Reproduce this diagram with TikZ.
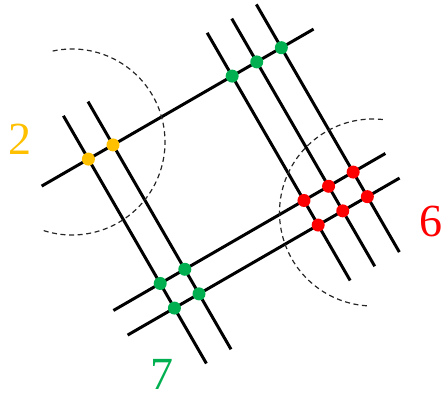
\documentclass[tikz,border=0pt]{standalone}
\usepackage{fontspec}
\setmainfont{Liberation Serif}
\definecolor{cyel}{RGB}{255,192,0}
\definecolor{cgrn}{RGB}{0,176,80}
\definecolor{cred}{RGB}{255,0,0}
\begin{document}
\begin{tikzpicture}[x=1pt,y=1pt,
  gridline/.style={line width=3pt, black},
  dot/.style={circle, inner sep=0pt, minimum size=13pt},
  ydot/.style={dot, fill=cyel},
  gdot/.style={dot, fill=cgrn},
  rdot/.style={dot, fill=cred},
  arcline/.style={line width=1.2pt, dash pattern=on 5pt off 3.6pt, black!85},
  lbl/.style={inner sep=0pt, font=\fontsize{46}{46}\selectfont}]
\useasboundingbox (0,0) rectangle (443,-398);
\begin{scope}[x={(0.866pt,0.5pt)}, y={(0.5pt,-0.866pt)}]
  % v-lines (down-right)
  \foreach \nm/\m in {Ya/-3, Yb/25.4, Ga/163, Gb/191.4, Gc/219.8}{
    \coordinate (\nm-s) at (\m,132);
    \coordinate (\nm-e) at (\m,418);
  }
  % u-lines (up-right)
  \foreach \nm/\n in {A/182, Ra/325.6, Rb/354}{
    \coordinate (\nm-s) at (-57,\n);
    \coordinate (\nm-e) at (257,\n);
  }
  \foreach \nm in {Ya, Yb, Ga, Gb, Gc, A, Ra, Rb}
    \draw[gridline] (\nm-s) -- (\nm-e);
  % intersection dots
  \node[ydot] (y1) at (-3,182) {};
  \node[ydot] (y2) at (25.4,182) {};
  \node[gdot] (gt1) at (163,182) {};
  \node[gdot] (gt2) at (191.4,182) {};
  \node[gdot] (gt3) at (219.8,182) {};
  \node[gdot] (gb1) at (-3,325.6) {};
  \node[gdot] (gb2) at (25.4,325.6) {};
  \node[gdot] (gb3) at (-3,354) {};
  \node[gdot] (gb4) at (25.4,354) {};
  \node[rdot] (r1) at (163,325.6) {};
  \node[rdot] (r2) at (191.4,325.6) {};
  \node[rdot] (r3) at (219.8,325.6) {};
  \node[rdot] (r4) at (163,354) {};
  \node[rdot] (r5) at (191.4,354) {};
  \node[rdot] (r6) at (219.8,354) {};
\end{scope}
% dashed arcs
\draw[arcline] (72,-142) ++(102:93) arc[start angle=102, end angle=-108, radius=93];
\draw[arcline] (373,-212.5) ++(84:93.5) arc[start angle=84, end angle=268, radius=93.5];
% labels
\node[lbl, text=cyel] (l2) at (20,-139) {2};
\node[lbl, text=cgrn] (l7) at (162,-374) {7};
\node[lbl, text=cred, anchor=east] (l6) at (442.5,-221) {6};
\end{tikzpicture}
\end{document}
